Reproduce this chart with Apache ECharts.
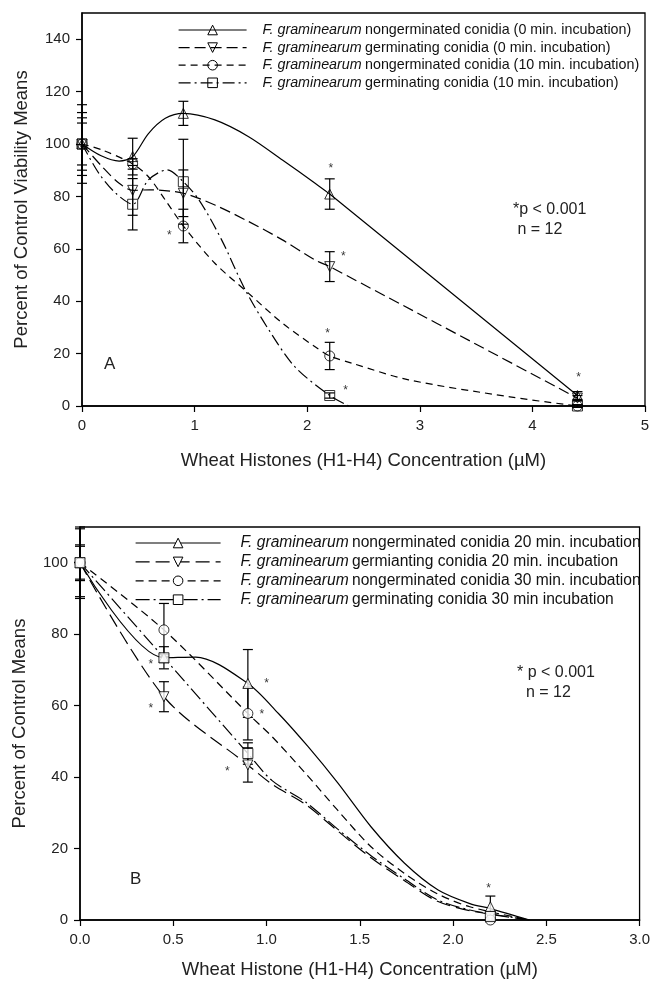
<!DOCTYPE html>
<html>
<head>
<meta charset="utf-8">
<script src="https://cdn.jsdelivr.net/npm/echarts@6/dist/echarts.min.js"></script>
<style>html,body{margin:0;padding:0;background:#fff}#c{width:653px;height:986px}</style>
</head>
<body>
<div id="c"></div>
<script>
// ---------- Panel A data ----------
const xA = [0, 0.45, 0.9, 2.2, 4.4];
const a1Mean = [100, 95.2, 111.7, 80.9, 4];
const a1Err  = [15, 7, 4.6, 5.8, 1.5];
const a2Mean = [100, 82.3, 81.2, 53.2, 3];
const a2Err  = [12, 9.5, 8.9, 5.7, 1];
const a3Mean = [100, 92.4, 68.7, 19.1, 0];
const a3Err  = [10, 2, 6.4, 5.2, 0.5];
const a4Mean = [100, 77, 85.6, 4, 0];
const a4Err  = [8, 9.8, 16.2, 1, 0.5];
// curves as drawn
const a1Curve = [[0,100],[0.17,95.5],[0.33,93.5],[0.45,95.2],[0.59,104],[0.74,109.8],[0.9,111.7],[1.18,109.2],[1.48,102.8],[1.78,93.9],[2.07,85],[2.2,80.9],[4.4,4]];
const a2Curve = [[0,100],[0.18,91.3],[0.33,85],[0.45,82.3],[0.6,82.5],[0.9,81.2],[1.18,76.7],[1.48,70.4],[1.78,63.4],[2.07,55.7],[2.2,53.2],[4.4,3]];
const a3Curve = [[0,100],[0.18,97.7],[0.45,92.4],[0.59,87.5],[0.74,78.6],[0.9,68.7],[1.18,54.5],[1.48,43],[1.78,31.6],[2.07,22.6],[2.2,19.1],[2.4,16.3],[2.9,10],[3.8,3.5],[4.4,0]];
const a4Curve = [[0,100],[0.15,88.8],[0.3,81.2],[0.45,77],[0.59,86.3],[0.755,90.1],[0.9,85.6],[1.04,78.6],[1.24,63.4],[1.45,44.3],[1.66,29],[1.89,15],[2.2,4],[2.37,0]];
const starsA = [[0.775,66.2],[2.21,91.6],[2.32,58.3],[2.18,28.7],[2.34,7],[4.41,11.8]];
const legendA = [
  'F. graminearum nongerminated conidia (0 min. incubation)',
  'F. graminearum germinating conidia (0 min. incubation)',
  'F. graminearum nongerminated conidia (10 min. incubation)',
  'F. graminearum germinating conidia (10 min. incubation)'
];

// ---------- Panel B data ----------
const xB = [0, 0.45, 0.9, 2.2];
const b1Mean = [100, 73.4, 66.2, 3.7];
const b1Err  = [9.5, 3.1, 9.5, 3];
const b2Mean = [100, 62.5, 43.4, 1];
const b2Err  = [4.6, 4.2, 4.8, 1];
const b3Mean = [100, 81.2, 57.8, 0];
const b3Err  = [10, 7.4, 7.4, 0.5];
const b4Mean = [100, 73.4, 46.6, 1];
const b4Err  = [5, 1, 3, 1];
const b1Curve = [[0,100],[0.45,73.4],[0.62,73.6],[0.9,66.2],[1.064,57.8],[1.223,48.5],[1.383,38.3],[1.56,26.1],[1.74,15.9],[1.92,8.4],[2.09,4.6],[2.2,3.2],[2.41,0]];
const b2Curve = [[0,100],[0.45,62.5],[0.9,43.4],[1.03,38],[1.21,32.3],[1.38,25],[1.56,17.4],[1.74,11],[1.91,5.4],[2.09,2.6],[2.41,0]];
const b3Curve = [[0,100],[0.45,81.2],[0.9,57.8],[1.03,51.3],[1.21,41],[1.38,30.8],[1.56,20.5],[1.74,13],[1.91,7.5],[2.09,3.7],[2.41,0]];
const b4Curve = [[0,100],[0.45,73.4],[0.9,46.6],[1.03,39],[1.21,33],[1.38,25.5],[1.56,18],[1.74,11.5],[1.91,5.8],[2.09,2.8],[2.41,0]];
const starsB = [[0.38,72.3],[0.38,60],[1.0,66.9],[0.975,58.3],[0.79,42.4],[2.19,9.5]];
const legendB = [
  'F. graminearum nongerminated conidia 20 min. incubation',
  'F. graminearum germianting conidia 20 min. incubation',
  'F. graminearum nongerminated conidia 30 min. incubation',
  'F. graminearum germinating conidia 30 min incubation'
];

const FONT = 'Liberation Sans, Arial, Helvetica, sans-serif';
const TRI_DOWN = 'path://M0,0 L10,0 L5,9 Z';

function pts(xs, ys) { return xs.map((x, i) => [x, ys[i]]); }
function errs(xs, ys, es) { return xs.map((x, i) => [x, ys[i] - es[i], ys[i] + es[i]]); }

function errRender(params, api) {
  const x = api.value(0), lo = api.value(1), hi = api.value(2);
  const p1 = api.coord([x, lo]), p2 = api.coord([x, hi]);
  const w = 5;
  const style = { stroke: '#000', lineWidth: 1.2, fill: null };
  return { type: 'group', children: [
    { type: 'line', shape: { x1: p1[0], y1: p1[1], x2: p2[0], y2: p2[1] }, style },
    { type: 'line', shape: { x1: p1[0] - w, y1: p1[1], x2: p1[0] + w, y2: p1[1] }, style },
    { type: 'line', shape: { x1: p2[0] - w, y1: p2[1], x2: p2[0] + w, y2: p2[1] }, style }
  ]};
}

function makeSeries(name, idx, curve, marks, errData, symbol, dash, fill) {
  const itemStyle = { color: fill, borderColor: '#000', borderWidth: 1 };
  return [
    { type: 'line', name, xAxisIndex: idx, yAxisIndex: idx, data: curve, smooth: 0.3,
      showSymbol: false, symbol, symbolSize: 10, itemStyle,
      lineStyle: { color: '#000', width: 1.2, type: dash }, z: 3, silent: true },
    { type: 'custom', xAxisIndex: idx, yAxisIndex: idx, data: errData, renderItem: errRender, z: 4, silent: true },
    { type: 'scatter', xAxisIndex: idx, yAxisIndex: idx, data: marks, symbol, symbolSize: 10,
      itemStyle, z: 5, silent: true }
  ];
}

function starSeries(idx, data) {
  return { type: 'scatter', xAxisIndex: idx, yAxisIndex: idx, data, symbol: 'circle', symbolSize: 1,
    itemStyle: { color: 'rgba(0,0,0,0)' }, silent: true, z: 6,
    label: { show: true, position: 'inside', formatter: '*', fontSize: 12, color: '#000', fontFamily: FONT, offset: [0, 3] } };
}

function legendFmt(name) {
  const rest = name.replace('F. graminearum ', '');
  return '{i|F. graminearum} {n|' + rest + '}';
}

const axisCommon = {
  axisLine: { show: true, lineStyle: { color: '#000', width: 1.5 } },
  axisTick: { show: true, inside: false, length: 6, lineStyle: { color: '#000', width: 1.2 } },
  splitLine: { show: false },
  nameTextStyle: { fontFamily: FONT, fontSize: 18.5, color: '#222' }
};
const tickFont = { fontFamily: FONT, fontSize: 15, color: '#222' };

const series = [];
series.push(...makeSeries(legendA[0], 0, a1Curve, pts(xA, a1Mean), errs(xA, a1Mean, a1Err), 'triangle', 'solid', 'rgba(255,255,255,0)'));
series.push(...makeSeries(legendA[1], 0, a2Curve, pts(xA, a2Mean), errs(xA, a2Mean, a2Err), TRI_DOWN, [11, 5], 'rgba(255,255,255,0)'));
series.push(...makeSeries(legendA[2], 0, a3Curve, pts(xA, a3Mean), errs(xA, a3Mean, a3Err), 'circle', [7, 5], 'rgba(255,255,255,0)'));
series.push(...makeSeries(legendA[3], 0, a4Curve, pts(xA, a4Mean), errs(xA, a4Mean, a4Err), 'rect', [12, 4, 2, 4], 'rgba(255,255,255,0)'));
series.push(starSeries(0, starsA));
series.push(...makeSeries(legendB[0], 1, b1Curve, pts(xB, b1Mean), errs(xB, b1Mean, b1Err), 'triangle', 'solid', '#fff'));
series.push(...makeSeries(legendB[1], 1, b2Curve, pts(xB, b2Mean), errs(xB, b2Mean, b2Err), TRI_DOWN, [14, 6], '#fff'));
series.push(...makeSeries(legendB[2], 1, b3Curve, pts(xB, b3Mean), errs(xB, b3Mean, b3Err), 'circle', [8, 5], '#fff'));
series.push(...makeSeries(legendB[3], 1, b4Curve, pts(xB, b4Mean), errs(xB, b4Mean, b4Err), 'rect', [14, 4, 2, 4], '#fff'));
series.push(starSeries(1, starsB));

const richLegend = {
  i: { fontStyle: 'italic', fontFamily: FONT, fontSize: 14.3, color: '#111', padding: [0, 0, 0, 11], lineHeight: 12 },
  n: { fontFamily: FONT, fontSize: 14.3, color: '#111', lineHeight: 12 }
};
const richLegendB = {
  i: { fontStyle: 'italic', fontFamily: FONT, fontSize: 15.6, color: '#111', padding: [0, 0, 0, 15], lineHeight: 12 },
  n: { fontFamily: FONT, fontSize: 15.6, color: '#111', lineHeight: 12 }
};

const chart = echarts.init(document.getElementById('c'), null, { renderer: 'canvas' });
chart.setOption({
  animation: false,
  backgroundColor: '#fff',
  grid: [
    { left: 82, top: 13, width: 563, height: 393, show: true, borderColor: '#000', borderWidth: 1.3, backgroundColor: 'transparent' },
    { left: 80, top: 527, width: 562, height: 393, show: true, borderColor: '#000', borderWidth: 1.3, backgroundColor: 'transparent' }
  ],
  xAxis: [
    Object.assign({}, axisCommon, { type: 'value', gridIndex: 0, min: 0, max: 5, interval: 1,
      name: 'Wheat Histones (H1-H4) Concentration (\u00b5M)', nameLocation: 'middle', nameGap: 45,
      axisLabel: Object.assign({ margin: 12 }, tickFont) }),
    Object.assign({}, axisCommon, { type: 'value', gridIndex: 1, min: 0, max: 3, interval: 0.5,
      name: 'Wheat Histone (H1-H4) Concentration (\u00b5M)', nameLocation: 'middle', nameGap: 40,
      axisLabel: Object.assign({ margin: 12, formatter: v => v.toFixed(1) }, tickFont) })
  ],
  yAxis: [
    Object.assign({}, axisCommon, { type: 'value', gridIndex: 0, min: 0, max: 150, interval: 20,
      name: 'Percent of Control Viability Means', nameLocation: 'middle', nameGap: 51,
      axisLabel: Object.assign({ margin: 12, showMaxLabel: false }, tickFont) }),
    Object.assign({}, axisCommon, { type: 'value', gridIndex: 1, min: 0, max: 110, interval: 20,
      name: 'Percent of Control Means', nameLocation: 'middle', nameGap: 51,
      axisLabel: Object.assign({ margin: 12, showMaxLabel: false }, tickFont) })
  ],
  legend: [
    { data: legendA, orient: 'vertical', left: 178, top: 23, itemWidth: 68, itemHeight: 12, itemGap: 3.6,
      formatter: legendFmt, textStyle: { rich: richLegend }, selectedMode: false, padding: 0,
      lineStyle: { width: 1.2 }, itemStyle: { borderWidth: 1 } },
    { data: legendB, orient: 'vertical', left: 135, top: 535, itemWidth: 85, itemHeight: 12, itemGap: 2.9,
      formatter: legendFmt, textStyle: { rich: richLegendB }, selectedMode: false, padding: 0,
      lineStyle: { width: 1.2 }, itemStyle: { borderWidth: 1 } }
  ],
  graphic: [
    { type: 'text', left: 104, top: 356, style: { text: 'A', font: '17px ' + FONT, fill: '#222' } },
    { type: 'text', left: 513, top: 200, style: { text: '*p < 0.001\n n = 12', font: '16px ' + FONT, fill: '#222', lineHeight: 20 } },
    { type: 'text', left: 130, top: 871, style: { text: 'B', font: '17px ' + FONT, fill: '#222' } },
    { type: 'text', left: 517, top: 663, style: { text: '* p < 0.001\n  n = 12', font: '16px ' + FONT, fill: '#222', lineHeight: 20 } }
  ],
  series
});
</script>
</body>
</html>
